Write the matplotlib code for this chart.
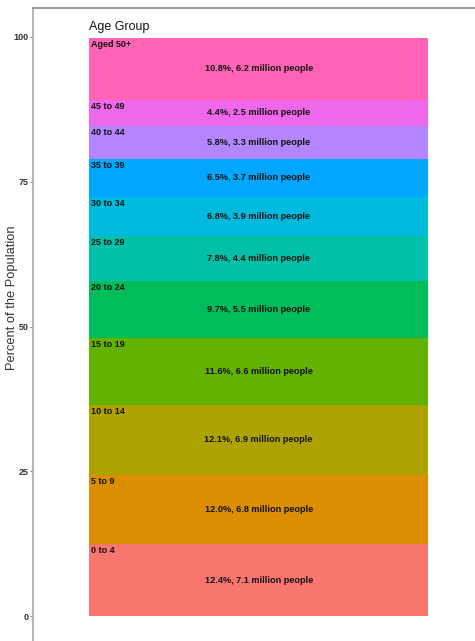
import matplotlib
matplotlib.use("Agg")
import matplotlib.pyplot as plt

plt.rcParams["font.family"] = ["Liberation Sans", "DejaVu Sans"]

AGE_GROUPS = ["0 to 4", "5 to 9", "10 to 14", "15 to 19", "20 to 24", "25 to 29",
              "30 to 34", "35 to 39", "40 to 44", "45 to 49", "Aged 50+"]
PERCENTS = [12.4, 12.0, 12.1, 11.6, 9.7, 7.8, 6.8, 6.5, 5.8, 4.4, 10.8]
MILLIONS = [7.1, 6.8, 6.9, 6.6, 5.5, 4.4, 3.9, 3.7, 3.3, 2.5, 6.2]
COLORS = ["#F8766D", "#DB8E00", "#AEA200", "#64B200", "#00BD5C", "#00C1A7",
          "#00BADE", "#00A6FF", "#B385FF", "#EF67EB", "#FF63B6"]
Y_TICKS = [0, 25, 50, 75, 100]

fig = plt.figure(figsize=(4.75, 6.41), dpi=100)
ax = fig.add_axes([33 / 475, 0, 442 / 475, 633 / 641])

x0, x1 = 0.127, 0.894
xc = (x0 + x1) / 2
bottom = 0.0
for name, pct, mil, col in zip(AGE_GROUPS, PERCENTS, MILLIONS, COLORS):
    ax.bar(xc, pct, width=x1 - x0, bottom=bottom, color=col, edgecolor="none")
    top = bottom + pct
    ax.text(x0 + 0.004, top - 0.35, name, ha="left", va="top",
            fontsize=6.5, fontweight="bold", color="#111111")
    ax.text(xc, bottom + pct / 2, f"{pct:.1f}%, {mil} million people",
            ha="center", va="center", fontsize=6.6, fontweight="bold", color="#111111")
    bottom = top

ax.text(x0, 100.6, "Age Group", ha="left", va="bottom", fontsize=9, color="#111111")

ax.set_xlim(0, 1)
ax.set_ylim(-4.3, 105)
ax.set_xticks([])
ax.set_yticks(Y_TICKS)
ax.set_yticklabels([str(t) for t in Y_TICKS], fontsize=6.5, fontweight="bold", color="#333333")
ax.tick_params(axis="y", length=2, width=0.8, color="#888888", pad=1)

fig.text(12 / 475, 1 - 298 / 641, "Percent of the Population", rotation=90,
         ha="center", va="center", fontsize=9.3, color="#333333")

for side in ("right", "bottom"):
    ax.spines[side].set_visible(False)
ax.spines["left"].set_color("#aaaaaa")
ax.spines["left"].set_linewidth(1.2)
ax.spines["top"].set_color("#888888")
ax.spines["top"].set_linewidth(1.2)

fig.savefig("out.png", dpi=100)
